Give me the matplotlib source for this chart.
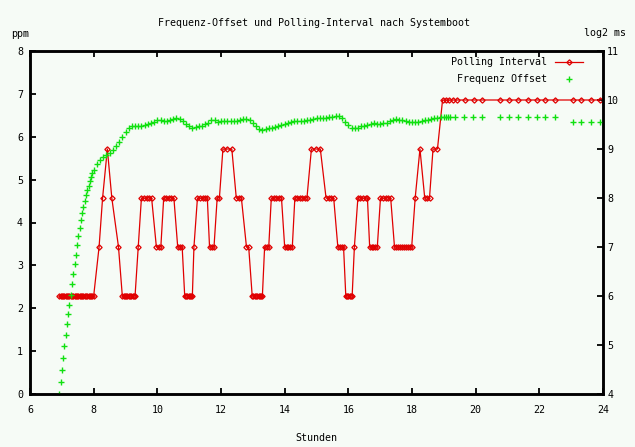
import matplotlib.pyplot as plt

# Polling Interval (log2) - Zeitpunkte in Stunden und Werte
poll_t = [
    6.92, 6.96, 7.00, 7.04, 7.08, 7.12, 7.16, 7.20, 7.24, 7.28, 7.32, 7.36, 7.40, 7.44,
    7.48, 7.52, 7.56, 7.60, 7.64, 7.68, 7.72, 7.76, 7.80, 7.84, 7.88, 7.92, 7.96, 8.00,
    8.17, 8.28, 8.43, 8.57, 8.78,
    8.90, 8.94, 8.98, 9.02, 9.06, 9.10, 9.14, 9.18, 9.22, 9.26, 9.30,
    9.40,
    9.50, 9.58, 9.66, 9.74, 9.82,
    9.97, 10.04, 10.11,
    10.20, 10.28, 10.36, 10.44, 10.52,
    10.64, 10.71, 10.78,
    10.86, 10.90, 10.94, 10.98, 11.02, 11.06, 11.10,
    11.15,
    11.26, 11.34, 11.42, 11.50, 11.57,
    11.64, 11.71, 11.78,
    11.88, 11.95,
    12.06, 12.20, 12.34,
    12.48, 12.56, 12.64,
    12.80, 12.87,
    12.98, 13.02, 13.06, 13.10, 13.14, 13.18, 13.22, 13.26, 13.30,
    13.37, 13.43, 13.50,
    13.58, 13.66, 13.74, 13.82, 13.90,
    14.00, 14.06, 14.12, 14.18, 14.24,
    14.32, 14.40, 14.48, 14.56, 14.64, 14.70,
    14.84, 14.98, 15.12,
    15.30, 15.38, 15.46, 15.54,
    15.67, 15.73, 15.79, 15.85,
    15.92, 15.96, 16.00, 16.04, 16.08, 16.12,
    16.19,
    16.30, 16.38, 16.46, 16.54, 16.60,
    16.67, 16.73, 16.79, 16.85, 16.91,
    17.01, 17.09, 17.17, 17.25, 17.33,
    17.45, 17.51, 17.57, 17.63, 17.69, 17.75, 17.81, 17.87, 17.93, 17.99,
    18.10, 18.25,
    18.40, 18.48, 18.55,
    18.66, 18.80,
    18.96, 19.07, 19.17, 19.28, 19.40, 19.68, 19.95, 20.21, 20.77, 21.06,
    21.34, 21.63, 21.92, 22.19, 22.48, 23.05, 23.32, 23.61, 23.91,
]
poll_lvl = [
    6, 6, 6, 6, 6, 6, 6, 6, 6, 6, 6, 6, 6, 6,
    6, 6, 6, 6, 6, 6, 6, 6, 6, 6, 6, 6, 6, 6,
    7, 8, 9, 8, 7,
    6, 6, 6, 6, 6, 6, 6, 6, 6, 6, 6,
    7,
    8, 8, 8, 8, 8,
    7, 7, 7,
    8, 8, 8, 8, 8,
    7, 7, 7,
    6, 6, 6, 6, 6, 6, 6,
    7,
    8, 8, 8, 8, 8,
    7, 7, 7,
    8, 8,
    9, 9, 9,
    8, 8, 8,
    7, 7,
    6, 6, 6, 6, 6, 6, 6, 6, 6,
    7, 7, 7,
    8, 8, 8, 8, 8,
    7, 7, 7, 7, 7,
    8, 8, 8, 8, 8, 8,
    9, 9, 9,
    8, 8, 8, 8,
    7, 7, 7, 7,
    6, 6, 6, 6, 6, 6,
    7,
    8, 8, 8, 8, 8,
    7, 7, 7, 7, 7,
    8, 8, 8, 8, 8,
    7, 7, 7, 7, 7, 7, 7, 7, 7, 7,
    8, 9,
    8, 8, 8,
    9, 9,
    10, 10, 10, 10, 10, 10, 10, 10, 10, 10,
    10, 10, 10, 10, 10, 10, 10, 10, 10,
]

# Frequenz Offset (ppm)
offset_t = [
    6.92, 6.96, 7.00, 7.04, 7.08, 7.12, 7.16, 7.20, 7.24, 7.28,
    7.32, 7.36, 7.40, 7.44, 7.48, 7.52, 7.56, 7.60, 7.64, 7.68,
    7.72, 7.76, 7.80, 7.84, 7.88, 7.92, 7.96,
    8.0, 8.1, 8.2, 8.3, 8.4, 8.5, 8.6, 8.7, 8.8, 8.9,
    9.0, 9.1, 9.2, 9.3, 9.4, 9.5, 9.6, 9.7, 9.8, 9.9,
    10.0, 10.1, 10.2, 10.3, 10.4, 10.5, 10.6, 10.7, 10.8, 10.9,
    11.0, 11.1, 11.2, 11.3, 11.4, 11.5, 11.6, 11.7, 11.8, 11.9,
    12.0, 12.1, 12.2, 12.3, 12.4, 12.5, 12.6, 12.7, 12.8, 12.9,
    13.0, 13.1, 13.2, 13.3, 13.4, 13.5, 13.6, 13.7, 13.8, 13.9,
    14.0, 14.1, 14.2, 14.3, 14.4, 14.5, 14.6, 14.7, 14.8, 14.9,
    15.0, 15.1, 15.2, 15.3, 15.4, 15.5, 15.6, 15.7, 15.8, 15.9,
    16.0, 16.1, 16.2, 16.3, 16.4, 16.5, 16.6, 16.7, 16.8, 16.9,
    17.0, 17.1, 17.2, 17.3, 17.4, 17.5, 17.6, 17.7, 17.8, 17.9,
    18.0, 18.1, 18.2, 18.3, 18.4, 18.5, 18.6, 18.7, 18.8, 18.9,
    19.00, 19.07, 19.14, 19.20, 19.35, 19.64, 19.93, 20.21, 20.77, 21.06,
    21.34, 21.63, 21.92, 22.19, 22.48, 23.05, 23.32, 23.61, 23.91,
]
offset_ppm = [
    0.00, 0.29, 0.57, 0.85, 1.12, 1.38, 1.63, 1.87, 2.08, 2.31,
    2.56, 2.81, 3.03, 3.25, 3.48, 3.68, 3.87, 4.05, 4.21, 4.37,
    4.50, 4.63, 4.75, 4.86, 4.96, 5.06, 5.15,
    5.23, 5.36, 5.46, 5.52, 5.58, 5.63, 5.70, 5.78, 5.87, 6.00,
    6.12, 6.21, 6.25, 6.25, 6.24, 6.25, 6.27, 6.29, 6.32, 6.35,
    6.38, 6.39, 6.37, 6.37, 6.39, 6.41, 6.43, 6.42, 6.36, 6.29,
    6.24, 6.21, 6.22, 6.24, 6.26, 6.29, 6.33, 6.38, 6.38, 6.35,
    6.36, 6.37, 6.37, 6.37, 6.37, 6.37, 6.38, 6.41, 6.41, 6.39,
    6.32, 6.24, 6.17, 6.16, 6.18, 6.20, 6.21, 6.23, 6.25, 6.27,
    6.30, 6.33, 6.35, 6.36, 6.36, 6.37, 6.37, 6.39, 6.40, 6.42,
    6.43, 6.43, 6.44, 6.44, 6.45, 6.46, 6.48, 6.49, 6.43, 6.35,
    6.27, 6.21, 6.20, 6.21, 6.24, 6.26, 6.28, 6.30, 6.31, 6.30,
    6.30, 6.31, 6.33, 6.36, 6.39, 6.41, 6.40, 6.38, 6.36, 6.35,
    6.35, 6.35, 6.35, 6.36, 6.38, 6.40, 6.42, 6.43, 6.44, 6.45,
    6.45, 6.45, 6.45, 6.45, 6.45, 6.45, 6.45, 6.45, 6.45, 6.45,
    6.45, 6.45, 6.45, 6.45, 6.45, 6.35, 6.35, 6.35, 6.35,
]

x_ticks = [6, 8, 10, 12, 14, 16, 18, 20, 22, 24]
ppm_ticks = [0, 1, 2, 3, 4, 5, 6, 7, 8]
log2_ticks = [4, 5, 6, 7, 8, 9, 10, 11]

bg = '#f6fbf6'
plt.rcParams['font.family'] = ['DejaVu Sans Mono']
plt.rcParams['font.size'] = 7.2

W, H = 635, 447
fig = plt.figure(figsize=(W / 100, H / 100), dpi=100, facecolor=bg)
ax = fig.add_axes([30 / W, 53 / H, 573 / W, 343 / H])
ax2 = ax.twinx()
ax.set_zorder(ax2.get_zorder() + 1)
ax.patch.set_visible(False)
ax2.set_facecolor(bg)

l_poll, = ax2.plot(poll_t, poll_lvl, color='#e00000', lw=0.9, marker='D', ms=2.7,
                   mfc='none', mew=0.9, label='Polling Interval')
l_off, = ax.plot(offset_t, offset_ppm, ls='none', marker='+', ms=4.5, mew=1,
                 color='#10e010', label='Frequenz Offset')

ax.set_xlim(6, 24)
ax.set_ylim(0, 8)
ax2.set_ylim(4, 11)
ax.set_xticks(x_ticks)
ax.set_yticks(ppm_ticks)
ax2.set_yticks(log2_ticks)

for a in (ax, ax2):
    for s in a.spines.values():
        s.set_linewidth(1.8)
ax.tick_params(axis='x', direction='in', length=4, width=1.3, top=True, pad=8)
ax.tick_params(axis='y', direction='in', length=4, width=1.3, pad=5)
ax2.tick_params(axis='y', direction='in', length=4, width=1.3, pad=3)

ax.legend(handles=[l_poll, l_off], loc='upper right', frameon=False, markerfirst=False,
          numpoints=1, handlelength=2.8, handletextpad=0.8, labelspacing=0.75,
          bbox_to_anchor=(1 - 16 / 573, 1 - 2 / 343), borderaxespad=0)

fig.text(314 / W, 1 - 23 / H, 'Frequenz-Offset und Polling-Interval nach Systemboot',
         ha='center', va='center')
fig.text(20 / W, 1 - 34 / H, 'ppm', ha='center', va='center')
fig.text(605 / W, 1 - 33 / H, 'log2 ms', ha='center', va='center')
fig.text(316 / W, 1 - 438 / H, 'Stunden', ha='center', va='center')

fig.savefig('out.png', dpi=100, facecolor=bg)
